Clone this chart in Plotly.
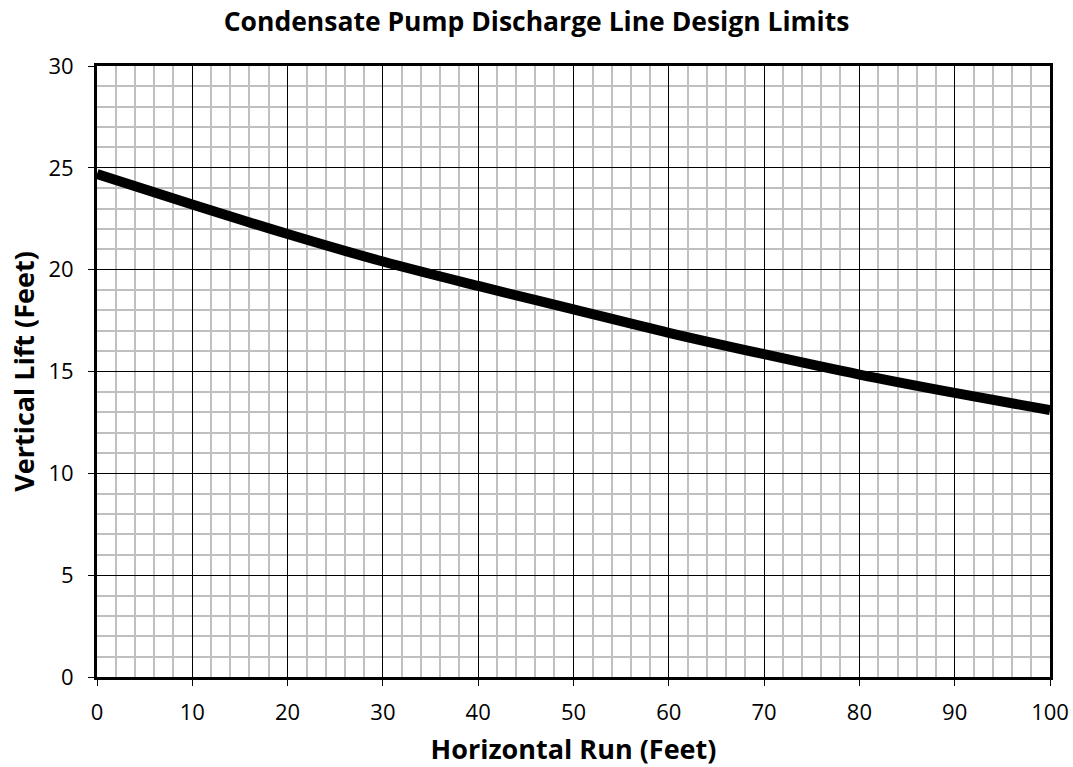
import plotly.graph_objects as go

run_ft = [0, 10, 20, 30, 40, 50, 60, 70, 80, 90, 100]
lift_ft = [24.7, 23.2, 21.75, 20.4, 19.2, 18.05, 16.9, 15.85, 14.85, 13.95, 13.1]

title = "Condensate Pump Discharge Line Design Limits"
xtitle = "Horizontal Run (Feet)"
ytitle = "Vertical Lift (Feet)"

fnt = "Open Sans, Noto Sans, sans-serif"

fig = go.Figure()
fig.add_trace(go.Scatter(x=run_ft, y=lift_ft, mode="lines", line=dict(color="black", width=10, shape="spline"), showlegend=False))

fig.update_layout(
    width=1073, height=767,
    margin=dict(l=97, r=23, t=66, b=90),
    paper_bgcolor="white", plot_bgcolor="white",
    title=dict(text="<b>" + title + "</b>", x=0.5, xref="container", xanchor="center", y=0.972, yanchor="middle",
               font=dict(family=fnt, size=26.5, color="black")),
    xaxis=dict(range=[0, 100], dtick=10, tick0=0, showgrid=True, gridcolor="black", gridwidth=1,
               minor=dict(dtick=2, showgrid=True, gridcolor="#c0c0c0", gridwidth=2),
               showline=True, linecolor="black", linewidth=3, mirror=True,
               ticks="outside", ticklen=6, tickcolor="black", tickwidth=1,
               ticklabelstandoff=8, automargin=False,
               tickfont=dict(family=fnt, size=22, color="black"),
               title=dict(text="<b>" + xtitle + "</b>", font=dict(family=fnt, size=27, color="black"), standoff=17),
               zeroline=False),
    yaxis=dict(range=[0, 30], dtick=5, tick0=0, showgrid=True, gridcolor="black", gridwidth=1,
               minor=dict(dtick=1, showgrid=True, gridcolor="#c0c0c0", gridwidth=2),
               showline=True, linecolor="black", linewidth=3, mirror=True,
               ticks="outside", ticklen=6, tickcolor="black", tickwidth=1,
               ticklabelstandoff=10, automargin=False,
               tickfont=dict(family=fnt, size=22, color="black"),
               title=dict(text="<b>" + ytitle + "</b>", font=dict(family=fnt, size=27, color="black"), standoff=6),
               zeroline=False),
)

fig.write_html("out.html", config={"displayModeBar": False},
               post_script="document.body.style.margin='0';document.body.style.overflow='hidden';document.documentElement.style.overflow='hidden';")
